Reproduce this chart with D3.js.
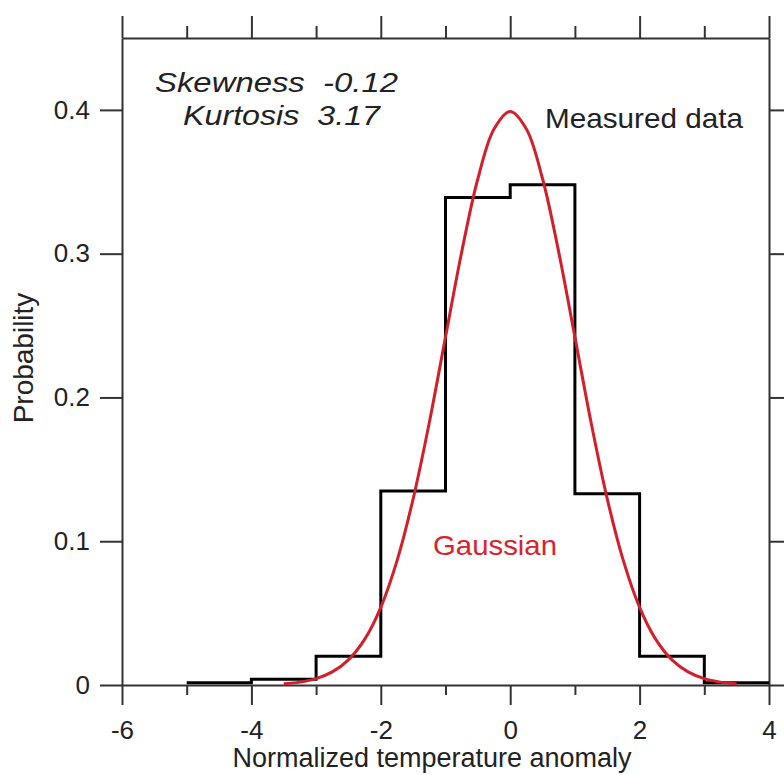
<!DOCTYPE html>
<html>
<head>
<meta charset="utf-8">
<script src="https://cdn.jsdelivr.net/npm/d3@7"></script>
<style>
  html, body { margin: 0; padding: 0; background: #fff; }
  svg { display: block; }
  text { font-family: "Liberation Sans", Arial, sans-serif; }
</style>
</head>
<body>
<svg id="chart" width="784" height="775"></svg>
<script>
// ---- data ----
const binEdges = [-5, -4, -3, -2, -1, 0, 1, 2, 3, 4];
const binProb  = [0.0015, 0.004, 0.020, 0.135, 0.339, 0.348, 0.133, 0.020, 0.0015];
const gaussX = [-3.5, -3.25, -3, -2.75, -2.5, -2.25, -2, -1.75, -1.5, -1.25, -1, -0.75, -0.5, -0.25, 0,
                0.25, 0.5, 0.75, 1, 1.25, 1.5, 1.75, 2, 2.25, 2.5, 2.75, 3, 3.25, 3.5];
const gaussY = [0.0009, 0.0020, 0.0044, 0.0091, 0.0175, 0.0317, 0.0540, 0.0863, 0.1295, 0.1826, 0.2420, 0.3011, 0.3521, 0.3867, 0.3989,
                0.3867, 0.3521, 0.3011, 0.2420, 0.1826, 0.1295, 0.0863, 0.0540, 0.0317, 0.0175, 0.0091, 0.0044, 0.0020, 0.0009];
const xMajorTicks = [-6, -4, -2, 0, 2, 4];
const xMinorTicks = [-5, -3, -1, 1, 3];
const yTicks = [0, 0.1, 0.2, 0.3, 0.4];
const xTitle = "Normalized temperature anomaly";
const yTitle = "Probability";
const statLines = [["Skewness", "-0.12"], ["Kurtosis", "3.17"]];

// ---- layout ----
const svg = d3.select("#chart");
const x = d3.scaleLinear().domain([-6, 4]).range([122, 769]);
const y = d3.scaleLinear().domain([0, 0.45]).range([685, 38]);
const axisColor = "#333";

function styleAxis(g) {
  g.selectAll("path.domain").attr("stroke", axisColor).attr("stroke-width", 2);
  g.selectAll(".tick line").attr("stroke", axisColor).attr("stroke-width", 2);
  g.selectAll(".tick text").attr("fill", "#222").attr("font-size", 26)
    .attr("font-family", "'Liberation Sans', Arial, sans-serif");
}

// bottom axis (major with labels, minor without)
svg.append("g").attr("transform", `translate(0,${y(0)})`)
  .call(d3.axisBottom(x).tickValues(xMajorTicks).tickSize(20).tickSizeOuter(0).tickPadding(16)
        .tickFormat(d3.format("d")))
  .call(styleAxis)
  .call(g => g.selectAll(".tick text").text(d => String(d)));
svg.append("g").attr("transform", `translate(0,${y(0)})`)
  .call(d3.axisBottom(x).tickValues(xMinorTicks).tickSize(10).tickSizeOuter(0).tickFormat(""))
  .call(styleAxis).call(g => g.select("path.domain").remove());

// top axis
svg.append("g").attr("transform", `translate(0,${y(0.45)})`)
  .call(d3.axisTop(x).tickValues(xMajorTicks).tickSize(22).tickSizeOuter(0).tickFormat(""))
  .call(styleAxis);
svg.append("g").attr("transform", `translate(0,${y(0.45)})`)
  .call(d3.axisTop(x).tickValues(xMinorTicks).tickSize(12).tickSizeOuter(0).tickFormat(""))
  .call(styleAxis).call(g => g.select("path.domain").remove());

// left axis
svg.append("g").attr("transform", `translate(${x(-6)},0)`)
  .call(d3.axisLeft(y).tickValues(yTicks).tickSize(22).tickSizeOuter(0).tickPadding(10)
        .tickFormat(d => d === 0 ? "0" : d3.format(".1f")(d)))
  .call(styleAxis);

// right axis
svg.append("g").attr("transform", `translate(${x(4)},0)`)
  .call(d3.axisRight(y).tickValues(yTicks).tickSize(18).tickSizeOuter(0).tickFormat(""))
  .call(styleAxis);

// histogram step line
const stepPts = binEdges.map((e, i) => [e, i < binProb.length ? binProb[i] : binProb[binProb.length - 1]]);
svg.append("path")
  .datum(stepPts)
  .attr("fill", "none")
  .attr("stroke", "#000")
  .attr("stroke-width", 3)
  .attr("d", d3.line().x(d => x(d[0])).y(d => y(d[1])).curve(d3.curveStepAfter));

// gaussian curve
svg.append("path")
  .datum(gaussX.map((v, i) => [v, gaussY[i]]))
  .attr("fill", "none")
  .attr("stroke", "#d21f2b")
  .attr("stroke-width", 3)
  .attr("d", d3.line().x(d => x(d[0])).y(d => y(d[1])).curve(d3.curveCatmullRom));

// annotations
svg.append("text").attr("x", 155).attr("y", 92).attr("font-size", 28).attr("font-style", "italic")
  .attr("fill", "#222").attr("textLength", 243).attr("lengthAdjust", "spacingAndGlyphs")
  .text(statLines[0][0] + "\u00a0\u00a0" + statLines[0][1]);
svg.append("text").attr("x", 183).attr("y", 125).attr("font-size", 28).attr("font-style", "italic")
  .attr("fill", "#222").attr("textLength", 197).attr("lengthAdjust", "spacingAndGlyphs")
  .text(statLines[1][0] + "\u00a0\u00a0" + statLines[1][1]);
svg.append("text").attr("x", 545).attr("y", 128).attr("font-size", 28)
  .attr("fill", "#222").attr("textLength", 198).attr("lengthAdjust", "spacingAndGlyphs")
  .text("Measured data");
svg.append("text").attr("x", 433).attr("y", 555).attr("font-size", 28)
  .attr("fill", "#d8232f").attr("textLength", 124).attr("lengthAdjust", "spacingAndGlyphs")
  .text("Gaussian");

// axis titles
svg.append("text").attr("x", 432).attr("y", 767).attr("text-anchor", "middle")
  .attr("font-size", 27).attr("fill", "#222").text(xTitle);
svg.append("text").attr("transform", "translate(33,358) rotate(-90)").attr("text-anchor", "middle")
  .attr("font-size", 28).attr("fill", "#222").text(yTitle);
</script>
</body>
</html>
